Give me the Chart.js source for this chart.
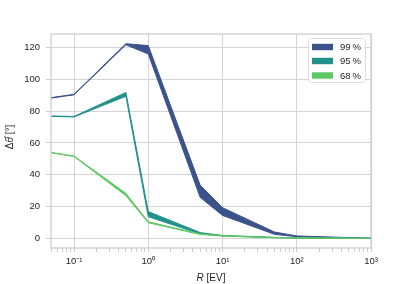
<!DOCTYPE html>
<html><head><meta charset="utf-8">
<script src="https://cdn.jsdelivr.net/npm/chart.js@4/dist/chart.umd.min.js"></script>
<style>html,body{margin:0;padding:0;background:#fff}#wrap{width:413px;height:284px;position:relative}</style>
</head><body><div id="wrap"><canvas id="c" width="413" height="284"></canvas></div>
<script>
// ---- data ----
const rValues = [0.05, 0.1, 0.5, 1, 5, 10, 50, 100, 1000];
const upper99 = [88.6, 90.6, 122.5, 121.3, 33.5, 19.3, 4.0, 1.5, 0];
const lower99 = [88.3, 90.3, 121.8, 116.0, 25.8, 14.4, 2.5, 1.0, 0];
const upper95 = [77.0, 76.7, 91.8, 16.8, 3.6, 1.8, 0.6, 0.3, 0];
const lower95 = [76.7, 76.4, 89.4, 13.6, 2.8, 1.5, 0.4, 0.2, 0];
const upper68 = [54.0, 51.8, 28.3, 10.4, 2.8, 1.7, 0.5, 0.3, 0];
const lower68 = [53.7, 51.5, 26.8, 9.8, 2.4, 1.4, 0.4, 0.2, 0];
const seriesLabels = ['99\u2009%', '95\u2009%', '68\u2009%'];
const seriesColors = ['#3b528b', '#21918c', '#5ec962'];
const xMajorTicks = [0.1, 1, 10, 100, 1000];
const xTickLabels = ['10\u207B\u00B9', '10\u2070', '10\u00B9', '10\u00B2', '10\u00B3'];
const xMinorTicks = [0.05, 0.06, 0.07, 0.08, 0.09,
  0.2, 0.3, 0.4, 0.5, 0.6, 0.7, 0.8, 0.9,
  2, 3, 4, 5, 6, 7, 8, 9,
  20, 30, 40, 50, 60, 70, 80, 90,
  200, 300, 400, 500, 600, 700, 800, 900];
const yTicks = [0, 20, 40, 60, 80, 100, 120];
const xTitleItalic = 'R', xTitleRest = ' [EV]';

// ---- chart ----
const FONT = '"Liberation Sans", Arial, sans-serif';
const TXT = '#262626';
const GRID = '#d4d4d4';
const pts = arr => rValues.map((x, i) => ({x: x, y: arr[i]}));
const bands = [[upper99, lower99], [upper95, lower95], [upper68, lower68]];
const datasets = [];
bands.forEach((b, k) => {
  const col = seriesColors[k];
  datasets.push({label: seriesLabels[k], data: pts(b[0]), borderColor: col, backgroundColor: col,
    borderWidth: 1, pointRadius: 0, fill: false, order: 3 - k, tension: 0});
  datasets.push({label: seriesLabels[k] + ' lo', data: pts(b[1]), borderColor: col, backgroundColor: col,
    borderWidth: 1, pointRadius: 0, fill: '-1', order: 3 - k, tension: 0});
});

const allXTicks = xMinorTicks.concat(xMajorTicks).sort((a, b) => a - b);
const isMajorX = v => xMajorTicks.some(m => Math.abs(m - v) / m < 1e-6);

const framePlugin = {
  id: 'frame',
  beforeDatasetsDraw(chart) {
    const a = chart.chartArea, ctx = chart.ctx;
    ctx.save();
    ctx.strokeStyle = '#cccccc';
    ctx.lineWidth = 1.25;
    ctx.strokeRect(a.left, a.top, a.right - a.left, a.bottom - a.top);
    ctx.restore();
  },
  afterDraw(chart) {
    const ctx = chart.ctx;
    ctx.save();
    // x title
    ctx.fillStyle = TXT;
    ctx.textBaseline = 'middle';
    ctx.font = 'italic 10px ' + FONT;
    const w1 = ctx.measureText(xTitleItalic).width;
    ctx.font = '10px ' + FONT;
    const w2 = ctx.measureText(xTitleRest).width;
    const cx = (chart.chartArea.left + chart.chartArea.right) / 2 + 0;
    let x0 = cx - (w1 + w2) / 2;
    ctx.font = 'italic 10px ' + FONT;
    ctx.textAlign = 'left';
    ctx.fillText(xTitleItalic, x0, 278.5);
    ctx.font = '10px ' + FONT;
    ctx.fillText(xTitleRest, x0 + w1, 278.5);
    // y title
    ctx.translate(10, 137);
    ctx.rotate(-Math.PI / 2);
    const parts = [['\u0394', ''], ['\u03B8\u0302', 'italic '], [' [\u00B0]', '']];
    let tw = 0;
    parts.forEach(p => { ctx.font = p[1] + '10px ' + FONT; tw += ctx.measureText(p[0]).width; });
    let px = -tw / 2;
    parts.forEach(p => { ctx.font = p[1] + '10px ' + FONT; ctx.fillText(p[0], px, 0); px += ctx.measureText(p[0]).width; });
    ctx.restore();

    // legend
    ctx.save();
    const bx = 308.5, by = 38.5, bw = 57, bh = 44, r = 3;
    ctx.beginPath();
    ctx.moveTo(bx + r, by);
    ctx.arcTo(bx + bw, by, bx + bw, by + bh, r);
    ctx.arcTo(bx + bw, by + bh, bx, by + bh, r);
    ctx.arcTo(bx, by + bh, bx, by, r);
    ctx.arcTo(bx, by, bx + bw, by, r);
    ctx.closePath();
    ctx.fillStyle = 'rgba(255,255,255,0.8)';
    ctx.fill();
    ctx.strokeStyle = '#dddddd';
    ctx.lineWidth = 1;
    ctx.stroke();
    const rows = [47, 61, 75.5];
    ctx.font = '9.5px ' + FONT;
    ctx.textBaseline = 'middle';
    ctx.textAlign = 'left';
    seriesLabels.forEach((lab, k) => {
      ctx.fillStyle = seriesColors[k];
      ctx.fillRect(312, rows[k] - 3.2, 21, 6.4);
      ctx.fillStyle = TXT;
      ctx.fillText(lab, 340, rows[k] + 0.5);
    });
    ctx.restore();
  }
};

new Chart(document.getElementById('c'), {
  type: 'line',
  data: {datasets: datasets},
  options: {
    responsive: false, animation: false, devicePixelRatio: 1,
    layout: {padding: {top: 34, right: 42, left: 0, bottom: 0}},
    plugins: {legend: {display: false}, tooltip: {enabled: false}},
    scales: {
      x: {
        type: 'logarithmic', min: 0.049, max: 1000,
        afterBuildTicks: s => { s.ticks = allXTicks.map(v => ({value: v, major: isMajorX(v)})); },
        afterFit: s => { s.height = 36; },
        ticks: {
          autoSkip: false, maxRotation: 0, minRotation: 0, padding: 4,
          color: TXT, font: {family: FONT, size: 9.5},
          callback: v => { const i = xMajorTicks.findIndex(m => Math.abs(m - v) / m < 1e-6); return i >= 0 ? xTickLabels[i] : ''; }
        },
        grid: {
          color: c => (c.tick && isMajorX(c.tick.value)) ? GRID : 'rgba(0,0,0,0)',
          tickColor: '#cccccc', tickLength: 4, drawTicks: true
        },
        border: {display: false}
      },
      y: {
        type: 'linear', min: -6.1, max: 128.6,
        afterBuildTicks: s => { s.ticks = yTicks.map(v => ({value: v})); },
        afterFit: s => { s.width = 51; },
        ticks: {padding: 6, color: TXT, font: {family: FONT, size: 9.5}},
        grid: {color: GRID, tickColor: '#cccccc', tickLength: 5, drawTicks: true},
        border: {display: false}
      }
    }
  },
  plugins: [framePlugin]
});
</script>
</body></html>
